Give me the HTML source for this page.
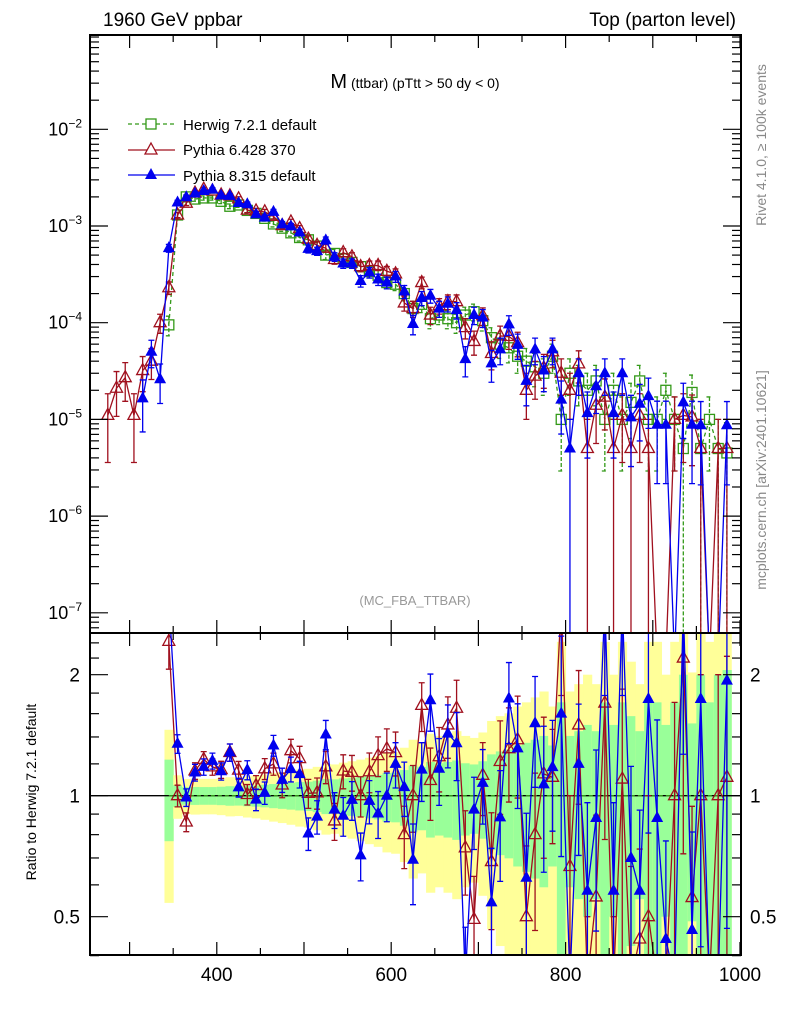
<!DOCTYPE html>
<html><head><meta charset="utf-8">
<style>
html,body{margin:0;padding:0;background:#fff;width:786px;height:1024px;overflow:hidden;}
svg{display:block;font-family:"Liberation Sans",sans-serif;overflow:hidden;}
</style></head>
<body>
<svg id="chart" width="786" height="1024" viewBox="0 0 786 1024">
  <defs>
    <clipPath id="clipMain"><rect x="90" y="35" width="651" height="598"/></clipPath>
    <clipPath id="clipRatio"><rect x="90" y="633" width="651" height="322"/></clipPath>
  </defs>
  <g id="ratioBands" clip-path="url(#clipRatio)"></g>
  <line x1="90" x2="741" y1="795.7" y2="795.7" stroke="#000" stroke-width="1.3"/>
  <g id="mainSeries" clip-path="url(#clipMain)"></g>
  <g id="ratioSeries" clip-path="url(#clipRatio)"></g>
  <g id="axes"></g>
  <rect x="90" y="35" width="651" height="598" fill="none" stroke="#000" stroke-width="2"/>
  <rect x="90" y="633" width="651" height="322" fill="none" stroke="#000" stroke-width="2"/>

  <text x="103" y="26" font-size="19">1960 GeV ppbar</text>
  <text x="736" y="26" font-size="19" text-anchor="end">Top (parton level)</text>
  <text x="415" y="88" text-anchor="middle"><tspan font-size="20">M</tspan><tspan font-size="14"> (ttbar) (pTtt &gt; 50 dy &lt; 0)</tspan></text>

  <g>
    <g>
      <line x1="128" x2="175" y1="124" y2="124" stroke="#339918" stroke-width="1.3" stroke-dasharray="4,3"/>
      <rect x="146" y="119" width="10" height="10" fill="#fff" stroke="#339918" stroke-width="1.3"/>
      <text x="183" y="130" font-size="15">Herwig 7.2.1 default</text>
    </g>
    <g>
      <line x1="128" x2="175" y1="150" y2="150" stroke="#a0101e" stroke-width="1.3"/>
      <polygon points="151,143 157,154 145,154" fill="#fff" stroke="#a0101e" stroke-width="1.3"/>
      <text x="183" y="155" font-size="15">Pythia 6.428 370</text>
    </g>
    <g>
      <line x1="128" x2="175" y1="175" y2="175" stroke="#0000ee" stroke-width="1.3"/>
      <polygon points="151,168 157,179 145,179" fill="#0000ee"/>
      <text x="183" y="181" font-size="15">Pythia 8.315 default</text>
    </g>
  </g>

  <text x="415" y="605" font-size="13" fill="#999" text-anchor="middle">(MC_FBA_TTBAR)</text>
  <text transform="translate(766,145) rotate(-90)" font-size="14" fill="#888" text-anchor="middle">Rivet 4.1.0, ≥ 100k events</text>
  <text transform="translate(766,480) rotate(-90)" font-size="14" fill="#888" text-anchor="middle">mcplots.cern.ch [arXiv:2401.10621]</text>
  <text transform="translate(36,792) rotate(-90)" font-size="14" text-anchor="middle">Ratio to Herwig 7.2.1 default</text>
</svg>
<script>
const binCenters = [275,285,295,305,315,325,335,345,355,365,375,385,395,405,415,425,435,445,455,465,475,485,495,505,515,525,535,545,555,565,575,585,595,605,615,625,635,645,655,665,675,685,695,705,715,725,735,745,755,765,775,785,795,805,815,825,835,845,855,865,875,885,895,905,915,925,935,945,955,965,975,985];
const herwig = [null,null,null,null,null,null,null,
 9.5e-5,1.3e-3,2.0e-3,1.9e-3,1.95e-3,1.95e-3,1.8e-3,1.6e-3,1.65e-3,1.45e-3,
 1.35e-3,1.2e-3,1.05e-3,9.5e-4,8.5e-4,7.6e-4,7.2e-4,6.2e-4,5.0e-4,5.2e-4,
 4.6e-4,4.2e-4,3.8e-4,3.4e-4,3.1e-4,2.6e-4,2.5e-4,2.0e-4,1.4e-4,1.55e-4,
 1.1e-4,1.2e-4,1.1e-4,1.0e-4,1.2e-4,1.3e-4,1.05e-4,7e-5,6e-5,5.5e-5,
 4.5e-5,4e-5,3.5e-5,3e-5,4.5e-5,1e-5,3e-5,2.5e-5,2e-5,2.5e-5,
 1e-5,2e-5,1e-5,1.5e-5,2.5e-5,1e-5,1e-5,2e-5,1e-5,5e-6,
 1.9e-5,5e-6,1e-5,5e-6,4.5e-6];
const pythia6 = [1.1e-5,2.1e-5,2.7e-5,1.1e-5,3.2e-5,4e-5,1e-4,
 2.3e-4,1.3e-3,1.72e-3,2.19e-3,2.4e-3,2.3e-3,2.09e-3,2.05e-3,1.91e-3,1.46e-3,
 1.43e-3,1.4e-3,1.26e-3,1.01e-3,1.1e-3,9.4e-4,7.3e-4,6.3e-4,5.9e-4,4.5e-4,
 5.3e-4,4.8e-4,3.8e-4,3.9e-4,3.9e-4,3.4e-4,3.2e-4,1.6e-4,1.4e-4,2.6e-4,
 1.2e-4,1.5e-4,1.65e-4,1.65e-4,8.9e-5,6.4e-5,1.18e-4,4.8e-5,7.3e-5,7.2e-5,
 6.2e-5,2e-5,2.8e-5,3.4e-5,5e-5,3e-5,2e-5,3.75e-5,5e-6,1.4e-5,
 1.7e-5,5e-6,1.1e-5,5e-6,1.1e-5,5e-6,0,0,1e-5,1.1e-5,
 1.06e-5,5e-6,0,5e-6,5e-6];
const pythia8 = [null,null,null,null,1.65e-5,5e-5,2.6e-5,
 5.9e-4,1.75e-3,1.98e-3,2.17e-3,2.3e-3,2.38e-3,2.07e-3,2.05e-3,1.73e-3,1.68e-3,
 1.32e-3,1.22e-3,1.4e-3,1.04e-3,9.9e-4,8.6e-4,5.8e-4,5.5e-4,7.1e-4,4.8e-4,
 4.1e-4,4.1e-4,2.7e-4,3.3e-4,2.8e-4,2.6e-4,3.0e-4,2.1e-4,9.7e-5,1.8e-4,
 1.9e-4,1.4e-4,1.57e-4,1.35e-4,4.2e-5,1.2e-4,1.13e-4,3.8e-5,5.3e-5,9.6e-5,
 5.9e-5,2.5e-5,5.3e-5,3.2e-5,5.3e-5,1.6e-5,5e-6,3e-5,1.16e-5,2.2e-5,
 3e-5,1.16e-5,3e-5,1.05e-5,1.45e-5,1.74e-5,8.8e-6,8.8e-6,0,1.5e-5,
 8.8e-6,8.7e-6,0,0,8.7e-6];
const xTickLabels = [400,600,800,1000];
const mainTickExps = [-7,-6,-5,-4,-3,-2];
const ratioTickLabels = [0.5,1,2];

const NS = "http://www.w3.org/2000/svg";
const BINW = 10, EVT = 5e-6;
function X(c){ return 90 + (c - 254.6) * 0.872; }
function YM(v){ return v > 0 ? Math.min(129.3 - 96.7 * (Math.log10(v) + 2), 660) : 660; }
function YR(r){ return r > 0 ? Math.max(Math.min(795.7 - 121 * Math.log2(r), 980), 600) : 980; }
function mk(tag, attrs, parent){
  const e = document.createElementNS(NS, tag);
  for (const k in attrs) e.setAttribute(k, attrs[k]);
  parent.appendChild(e); return e;
}
const mainG = document.getElementById('mainSeries');
const ratioG = document.getElementById('ratioSeries');
const bandG = document.getElementById('ratioBands');
const axG = document.getElementById('axes');

herwig.forEach((h, i) => {
  if (h == null || h <= 0) return;
  const e = Math.sqrt(EVT / h);
  const x0 = X(binCenters[i] - BINW/2), x1 = X(binCenters[i] + BINW/2);
  const y2hi = YR(1 + 2*e), y2lo = YR(Math.max(1 - 2*e, 0.01));
  const yb = mk('rect', {x: x0, y: y2hi, width: x1 - x0 + 0.5, height: y2lo - y2hi, fill: '#ffff99'}, bandG);
  
  
  const y1hi = YR(1 + e), y1lo = YR(Math.max(1 - e, 0.01));
  const gb = mk('rect', {x: x0, y: y1hi, width: x1 - x0 + 0.5, height: y1lo - y1hi, fill: '#99ff99'}, bandG);
  
  
});

function marker(kind, color, x, y, parent){
  let m;
  if (kind === 'square') m = mk('rect', {x: x-5, y: y-5, width: 10, height: 10, fill: 'none', stroke: color, 'stroke-width': 1.3}, parent);
  else if (kind === 'open') m = mk('polygon', {points: `${x},${y-7} ${x+6},${y+4} ${x-6},${y+4}`, fill: 'none', stroke: color, 'stroke-width': 1.3}, parent);
  else m = mk('polygon', {points: `${x},${y-7} ${x+6},${y+4} ${x-6},${y+4}`, fill: color}, parent);
  return m;
}

function drawSeries(vals, name, color, kind, dash){
  const pts = [];
  vals.forEach((v, i) => { if (v != null) pts.push([X(binCenters[i]), YM(v)]); });
  const line = mk('polyline', {points: pts.map(p => p.join(',')).join(' '), fill: 'none', stroke: color, 'stroke-width': 1.3}, mainG);
  if (dash) line.setAttribute('stroke-dasharray', '4,3');
  
  
  vals.forEach((v, i) => {
    if (v == null || v <= 0) return;
    const x = X(binCenters[i]);
    const e = Math.sqrt(v * EVT);
    const yt = YM(v + e), yb = YM(v - e);
    const eb = mk('path', {d: `M${x},${yt}V${yb}M${x-3},${yt}h6M${x-3},${yb}h6`, stroke: color, 'stroke-width': 1.3, fill: 'none'}, mainG);
    if (dash) eb.setAttribute('stroke-dasharray', '4,2');
    
    
    const m = marker(kind, color, x, YM(v), mainG);
    
    
  });
  const rpts = [];
  vals.forEach((v, i) => {
    const h = herwig[i];
    if (v == null || h == null || h <= 0) return;
    rpts.push([X(binCenters[i]), YR(v / h)]);
  });
  const rl = mk('polyline', {points: rpts.map(p => p.join(',')).join(' '), fill: 'none', stroke: color, 'stroke-width': 1.3}, ratioG);
  if (dash) rl.setAttribute('stroke-dasharray', '4,3');
  
  
  if (kind === 'square') return;
  vals.forEach((v, i) => {
    const h = herwig[i];
    if (v == null || v <= 0 || h == null || h <= 0) return;
    const r = v / h, x = X(binCenters[i]);
    const re = r * Math.sqrt(EVT / v);
    const yt = YR(r + re), yb = YR(r - re);
    const eb = mk('path', {d: `M${x},${yt}V${yb}M${x-3},${yt}h6M${x-3},${yb}h6`, stroke: color, 'stroke-width': 1.3, fill: 'none'}, ratioG);
    
    
    const m = marker(kind, color, x, YR(r), ratioG);
    
    
  });
}
drawSeries(herwig, 'herwig', '#339918', 'square', true);
drawSeries(pythia6, 'pythia6', '#a0101e', 'open', false);
drawSeries(pythia8, 'pythia8', '#0000ee', 'filled', false);

for (let c = 300; c <= 1000; c += 50) {
  const x = X(c), major = (c % 100 === 0);
  const len = major ? 13 : 7;
  [[633, -1], [35, 1], [955, -1], [633, 1]].forEach(([y0, dir]) => {
    const t = mk('line', {x1: x, x2: x, y1: y0, y2: y0 + dir*len, stroke: '#000', 'stroke-width': 1.2}, axG);
    
    
  });
}
xTickLabels.forEach(c => {
  const t = mk('text', {x: X(c), y: 981, 'font-size': 19, 'text-anchor': 'middle'}, axG);
  t.textContent = c;
  
  
});
for (let ex = -8; ex <= -2; ex++) {
  for (let k = 1; k <= 9; k++) {
    const v = k * Math.pow(10, ex), y = 129.3 - 96.7 * (Math.log10(v) + 2);
    if (y < 35 || y > 633) continue;
    const len = k === 1 ? 18 : 9;
    [[90, 1], [741, -1]].forEach(([x0, dir]) => {
      const t = mk('line', {x1: x0, x2: x0 + dir*len, y1: y, y2: y, stroke: '#000', 'stroke-width': 1.2}, axG);
      
      
    });
  }
}
mainTickExps.forEach(ex => {
  const y = YM(Math.pow(10, ex));
  const t = mk('text', {x: 82, y: y + 6, 'font-size': 18, 'text-anchor': 'end'}, axG);
  t.innerHTML = `10<tspan font-size="12" dy="-8">\u2212${-ex}</tspan>`;
  
  
});
[0.4,0.5,0.6,0.7,0.8,0.9,1,1.2,1.4,1.6,1.8,2,2.2,2.4].forEach(r => {
  const y = YR(r), major = (r === 0.5 || r === 1 || r === 2);
  const len = major ? 18 : 9;
  [[90, 1], [741, -1]].forEach(([x0, dir]) => {
    const t = mk('line', {x1: x0, x2: x0 + dir*len, y1: y, y2: y, stroke: '#000', 'stroke-width': 1.2}, axG);
    
    
  });
});
ratioTickLabels.forEach(r => {
  const y = YR(r) + 7;
  const l = mk('text', {x: 80, y: y, 'font-size': 19, 'text-anchor': 'end'}, axG);
  l.textContent = r;
  
  
  const rr = mk('text', {x: 750, y: y, 'font-size': 19}, axG);
  rr.textContent = r;
  
  
});
</script>
</body></html>
